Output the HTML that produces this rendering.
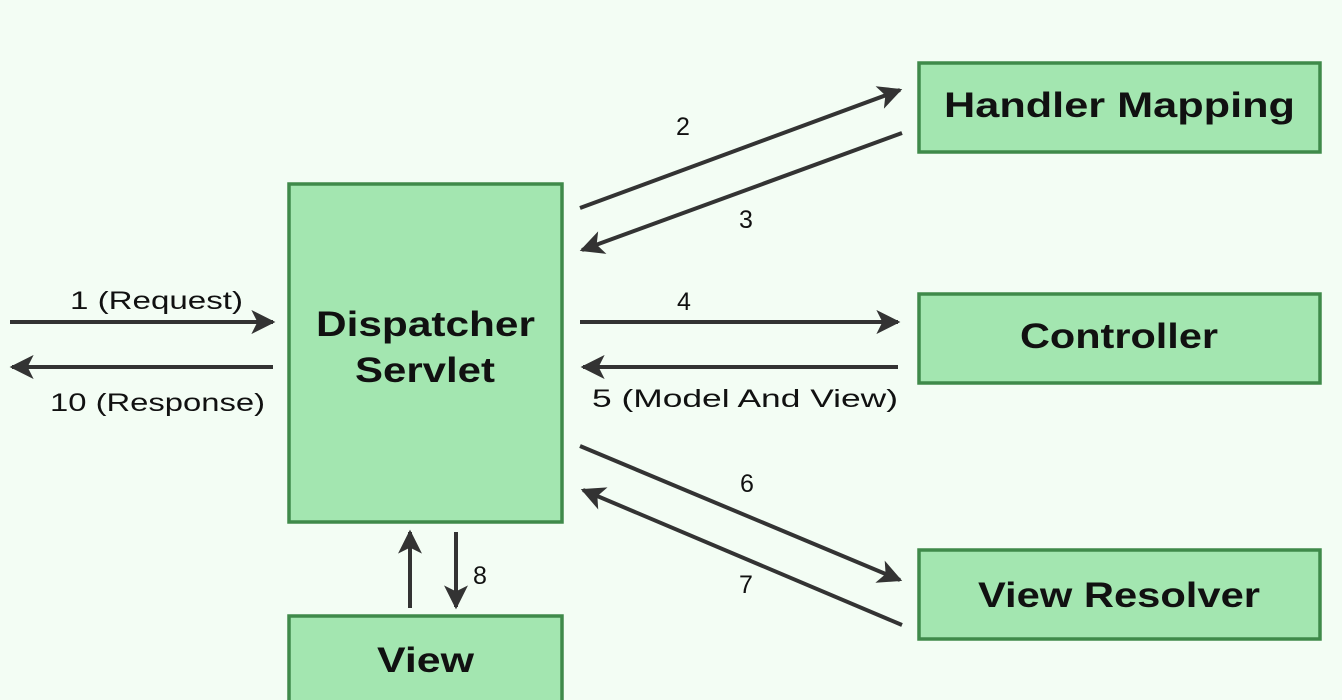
<!DOCTYPE html>
<html><head><style>html,body{margin:0;padding:0;background:#f3fdf4;}svg{display:block}</style></head>
<body>
<svg width="1342" height="700" viewBox="0 0 1342 700" xmlns="http://www.w3.org/2000/svg">
<defs>
<marker id="h" viewBox="0 0 10 10" refX="9" refY="5" markerWidth="24" markerHeight="24" markerUnits="userSpaceOnUse" orient="auto">
<path d="M0,0 L10,5 L0,10 L2.5,5 z" fill="#333"/>
</marker>
</defs>
<rect x="0" y="0" width="1342" height="700" fill="#f3fdf4"/>
<g fill="#a3e6b0" stroke="#3f8a4a" stroke-width="3.5">
<rect x="289" y="184" width="273" height="338"/>
<rect x="919" y="63" width="401" height="89"/>
<rect x="919" y="294" width="401" height="89"/>
<rect x="919" y="550" width="401" height="89"/>
<rect x="289" y="616" width="273" height="100"/>
</g>
<g stroke="#333" stroke-width="4" fill="none" marker-end="url(#h)">
<line x1="580" y1="208" x2="900" y2="90"/>
<line x1="902" y1="133" x2="582" y2="250"/>
<line x1="580" y1="322" x2="898" y2="322"/>
<line x1="898" y1="367" x2="583" y2="367"/>
<line x1="580" y1="446" x2="900" y2="580"/>
<line x1="902" y1="625" x2="583" y2="490"/>
<line x1="10" y1="322" x2="273" y2="322"/>
<line x1="273" y1="367" x2="12" y2="367"/>
<line x1="410" y1="608" x2="410" y2="532"/>
<line x1="456" y1="532" x2="456" y2="607"/>
</g>
<g font-family="Liberation Sans, sans-serif" fill="#111" font-weight="bold" font-size="35" lengthAdjust="spacingAndGlyphs">
<text x="316" y="336" textLength="219" lengthAdjust="spacingAndGlyphs">Dispatcher</text>
<text x="355" y="382" textLength="140" lengthAdjust="spacingAndGlyphs">Servlet</text>
<text x="944" y="117" textLength="351" lengthAdjust="spacingAndGlyphs">Handler Mapping</text>
<text x="1020" y="348" textLength="198" lengthAdjust="spacingAndGlyphs">Controller</text>
<text x="978" y="607" textLength="282" lengthAdjust="spacingAndGlyphs">View Resolver</text>
<text x="377" y="672" textLength="97" lengthAdjust="spacingAndGlyphs">View</text>
</g>
<g font-family="Liberation Sans, sans-serif" fill="#111" font-size="25">
<text x="676" y="135">2</text>
<text x="739" y="228">3</text>
<text x="677" y="310">4</text>
<text x="592" y="407" textLength="306" lengthAdjust="spacingAndGlyphs">5 (Model And View)</text>
<text x="740" y="492">6</text>
<text x="739" y="593">7</text>
<text x="70" y="309" textLength="173" lengthAdjust="spacingAndGlyphs">1 (Request)</text>
<text x="50" y="411" textLength="215" lengthAdjust="spacingAndGlyphs">10 (Response)</text>
<text x="473" y="584">8</text>
</g>
</svg>
</body></html>
